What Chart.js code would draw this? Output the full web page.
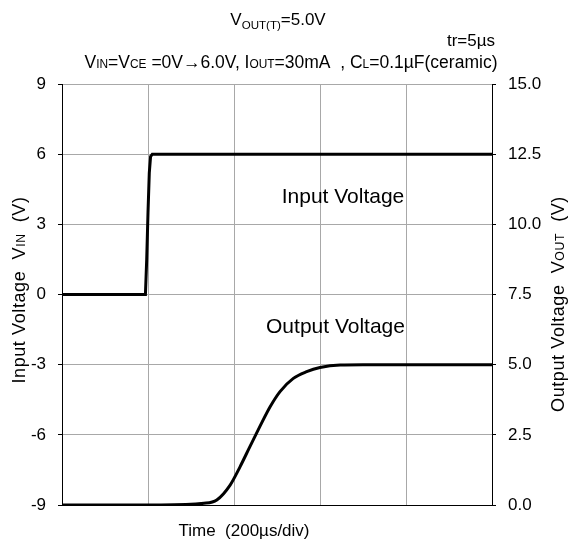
<!DOCTYPE html>
<html>
<head>
<meta charset="utf-8">
<script src="https://cdn.jsdelivr.net/npm/chart.js@4"></script>
<style>
  html, body { margin: 0; padding: 0; background: #fff; }
  #wrap { width: 571px; height: 546px; }
</style>
</head>
<body>
<div id="wrap"><canvas id="grafiek" width="571" height="546"></canvas></div>
<script>
// Tijd in µs (200µs/div, 5 div)
const inputTijd = [0, 194, 197, 200, 203, 206, 210, 1000];
const inputSpanning = [0, 0, 1.5, 3.5, 5.2, 5.9, 6.0, 6.0];

const outputTijd = [0, 230, 330, 360, 391, 414, 437, 460, 484, 507, 538, 569, 600, 647, 700, 1000];
const outputSpanning = [0, 0, 0.06, 0.18, 0.71, 1.36, 2.08, 2.79, 3.5, 4.04, 4.51, 4.75, 4.90, 4.99, 5.0, 5.0];

const linkerTicks = [-9, -6, -3, 0, 3, 6, 9];
const rechterTicks = [0, 2.5, 5, 7.5, 10, 12.5, 15];

const FONT = "'Liberation Sans', Arial, sans-serif";

// tekst met subscript stukjes: [tekst, sub?]
function tekenRijk(ctx, delen, x, y, size, align, subDrop) {
  let breedte = 0;
  delen.forEach(d => {
    ctx.font = (d[1] ? size * 0.68 : size) + "px " + FONT;
    breedte += ctx.measureText(d[0]).width;
  });
  let start = x;
  if (align === "center") start = x - breedte / 2;
  if (align === "right") start = x - breedte;
  ctx.textBaseline = "alphabetic";
  ctx.textAlign = "left";
  delen.forEach(d => {
    ctx.font = (d[1] ? size * 0.68 : size) + "px " + FONT;
    ctx.fillText(d[0], start, d[1] ? y + subDrop : y);
    start += ctx.measureText(d[0]).width;
  });
}

const tekstPlugin = {
  id: "teksten",
  afterDraw(chart) {
    const ctx = chart.ctx;
    ctx.save();
    ctx.fillStyle = "#000";
    tekenRijk(ctx, [["V"], ["OUT(T)", true], ["=5.0V"]], 278, 25, 17, "center", 4);
    tekenRijk(ctx, [["tr=5µs"]], 495, 46, 17, "right", 0);
    tekenRijk(ctx, [["V"], ["IN", true], ["=V"], ["CE", true], [" =0V→6.0V, I"], ["OUT", true], ["=30mA  , C"], ["L", true], ["=0.1µF(ceramic)"]], 291, 68, 17.5, "center", 0);
    tekenRijk(ctx, [["Input Voltage"]], 343, 203, 21, "center", 0);
    tekenRijk(ctx, [["Output Voltage"]], 335.5, 333, 21, "center", 0);
    tekenRijk(ctx, [["Time  (200µs/div)"]], 244, 536, 17, "center", 0);

    // as-titels
    ctx.letterSpacing = "0.6px";
    ctx.save();
    ctx.translate(25, 290);
    ctx.rotate(-Math.PI / 2);
    tekenRijk(ctx, [["Input Voltage  V"], ["IN", true], ["  (V)"]], 0, 0, 18, "center", 0);
    ctx.restore();

    ctx.save();
    ctx.translate(564, 304);
    ctx.rotate(-Math.PI / 2);
    tekenRijk(ctx, [["Output Voltage  V"], ["OUT", true], ["  (V)"]], 0, 0, 18, "center", 0);
    ctx.restore();
    ctx.restore();
  }
};

const grafiek = new Chart(document.getElementById("grafiek"), {
  type: "scatter",
  data: {
    datasets: [{
      label: "Input Voltage",
      data: inputTijd.map((t, i) => ({ x: t, y: inputSpanning[i] })),
      showLine: true,
      borderColor: "#000",
      borderWidth: 3,
      pointRadius: 0,
      yAxisID: "y"
    }, {
      label: "Output Voltage",
      data: outputTijd.map((t, i) => ({ x: t, y: outputSpanning[i] })),
      showLine: true,
      cubicInterpolationMode: "monotone",
      borderColor: "#000",
      borderWidth: 3,
      pointRadius: 0,
      yAxisID: "y2"
    }]
  },
  options: {
    responsive: false,
    animation: false,
    layout: { padding: { top: 84, left: 0, right: 0, bottom: 0 } },
    plugins: { legend: { display: false }, tooltip: { enabled: false } },
    scales: {
      x: {
        type: "linear", min: 0, max: 1000,
        ticks: { stepSize: 200, display: false },
        grid: { color: "#a8a8a8", lineWidth: 1, drawTicks: false },
        border: { color: "#000", width: 1 },
        afterFit: s => { s.height = 41; }
      },
      y: {
        position: "left", min: -9, max: 9,
        afterBuildTicks: s => { s.ticks = linkerTicks.map(v => ({ value: v })); },
        ticks: { color: "#000", font: { size: 17, family: FONT }, padding: 12 },
        grid: { color: "#a8a8a8", lineWidth: 1, tickLength: 4, tickColor: "#000" },
        border: { color: "#000", width: 1 },
        afterFit: s => { s.width = 62; }
      },
      y2: {
        position: "right", min: 0, max: 15,
        afterBuildTicks: s => { s.ticks = rechterTicks.map(v => ({ value: v })); },
        ticks: { color: "#000", font: { size: 17, family: FONT }, padding: 12,
                 callback: v => v.toFixed(1) },
        grid: { drawOnChartArea: false, tickLength: 4, tickColor: "#000" },
        border: { color: "#000", width: 1 },
        afterFit: s => { s.width = 79; }
      }
    }
  },
  plugins: [tekstPlugin]
});
</script>
</body>
</html>
